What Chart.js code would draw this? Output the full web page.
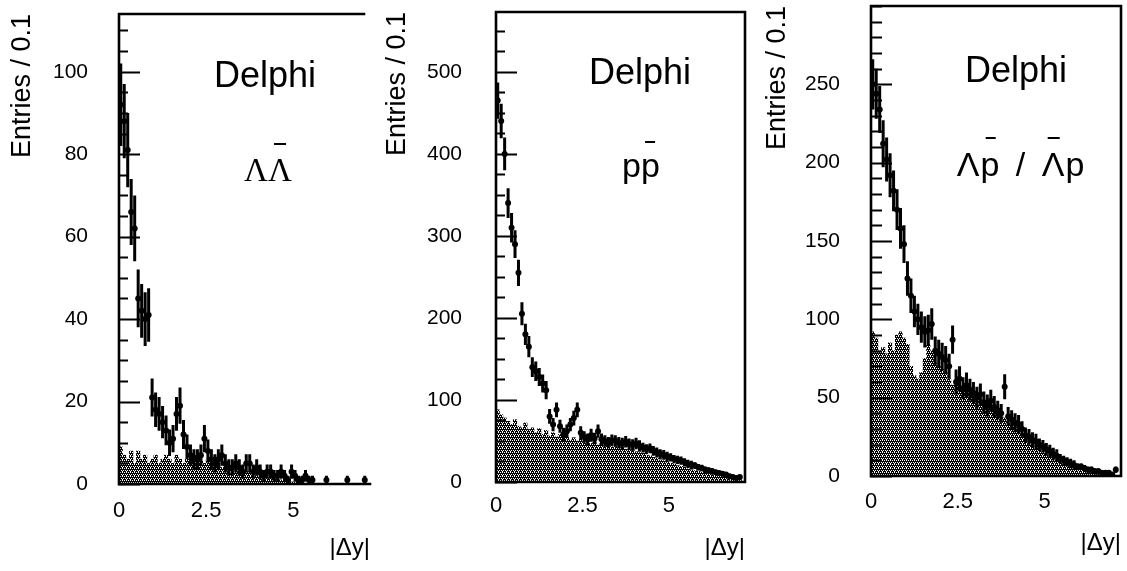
<!DOCTYPE html>
<html><head><meta charset="utf-8">
<script src="https://cdn.jsdelivr.net/npm/chart.js@4.4.1/dist/chart.umd.min.js"></script>
<style>
html,body{margin:0;padding:0;background:#fff}
body{width:1127px;height:571px;position:relative;overflow:hidden;font-family:"Liberation Sans",Arial,sans-serif;color:#000}
canvas{position:absolute;top:0}
.lbl{position:absolute;white-space:nowrap;transform:translateX(-50%);line-height:1;color:#000}
.sans{font-family:"Liberation Sans",Arial,sans-serif}
.serif{font-family:"Liberation Serif","Times New Roman",serif}
.ov{position:relative}
.ov::before{content:"";position:absolute;left:24%;right:24%;border-top:2px solid #000;top:var(--bt)}
</style></head>
<body>
<canvas id="c1" width="376" height="571" style="left:0px"></canvas>
<canvas id="c2" width="376" height="571" style="left:376px"></canvas>
<canvas id="c3" width="375" height="571" style="left:752px"></canvas>
<div class="lbl sans" style="left:265px;top:57px;font-size:36px">Delphi</div>
<div class="lbl sans" style="left:640px;top:54px;font-size:36px">Delphi</div>
<div class="lbl sans" style="left:1016px;top:52px;font-size:36px">Delphi</div>
<div class="lbl serif" style="left:268px;top:154px;font-size:33px">Λ<span class="ov" style="--bt:-9px">Λ</span></div>
<div class="lbl sans" style="left:641px;top:148px;font-size:34px">p<span class="ov" style="--bt:-5px">p</span></div>
<div class="lbl sans" style="left:1021px;top:147px;font-size:34px;word-spacing:5px;letter-spacing:1px">Λ<span class="ov" style="--bt:-8px">p</span> / <span class="ov" style="--bt:-8px">Λ</span>p</div>
<script>
// ---- data ----
const binCenters = [
0.05,0.15,0.25,0.35,0.45,0.55,0.65,0.75,0.85,0.95,
1.05,1.15,1.25,1.35,1.45,1.55,1.65,1.75,1.85,1.95,
2.05,2.15,2.25,2.35,2.45,2.55,2.65,2.75,2.85,2.95,
3.05,3.15,3.25,3.35,3.45,3.55,3.65,3.75,3.85,3.95,
4.05,4.15,4.25,4.35,4.45,4.55,4.65,4.75,4.85,4.95,
5.05,5.15,5.25,5.35,5.45,5.55,5.65,5.75,5.85,5.95,
6.05,6.15,6.25,6.35,6.45,6.55,6.65,6.75,6.85,6.95,
7.05,7.15];
const xTickValues = [0, 2.5, 5];
const xTitle = '|Δy|';
const yTitle = 'Entries / 0.1';

// Lambda Lambda-bar
const llTicks = [0,20,40,60,80,100];
const llData = [
92,88,81,66,62,45,42,40,41,21,
18,17,15,13,10,11,17,19,12,9,
7,6,6,7,11,8,6,5,6,7,
5,4,4,5,4,3,5,5,3,4,
3,2,3,3,2,2,3,2,1,3,
2,1,1,2,1,1,null,null,null,1,
null,null,null,null,null,1,null,null,null,null,
1,null];
const llErr = [
10,9,9,8,8,7,6.5,6.5,6.5,4.6,
4.2,4.1,3.9,3.6,3.2,3.3,4.1,4.4,3.5,3,
2.6,2.4,2.4,2.6,3.3,2.8,2.4,2.2,2.4,2.6,
2.2,2,2,2.2,2,1.7,2.2,2.2,1.7,2,
1.7,1.4,1.7,1.7,1.4,1.4,1.7,1.4,1,1.7,
1.4,1,1,1.4,1,1,null,null,null,1,
null,null,null,null,null,1,null,null,null,null,
1,null];
const llBg = [
9,7,6,8,5,8,6,7,5,6,
7,5,6,7,6,5,7,6,5,6,
5,7,5,6,5,6,4,5,5,4,
5,4,4,3,4,3,3,3,3,2,
3,2,2,2,1.5,1,1,1,0.5,0.5,
0.5,0.3,0,0,0,0,0,0,0,0,
0,0,0,0,0,0,0,0,0,0,
0,0];

// p p-bar
const ppTicks = [0,100,200,300,400,500];
const ppData = [
465,440,400,340,310,290,255,205,180,165,
140,135,128,120,112,80,70,88,68,58,
62,70,78,88,60,55,52,57,53,62,
52,50,48,51,50,48,47,49,46,45,
47,44,42,40,41,38,36,34,33,31,
30,28,27,26,24,22,21,20,18,17,
15,14,13,12,11,10,9,7,6,5,
6,null];
const ppErr = [
22,21,20,18,18,17,16,14,13,13,
12,12,11,11,11,9,8,9,8,8,
8,8,9,9,8,7,7,8,7,8,
7,7,7,7,7,7,7,7,7,7,
7,7,6,6,6,6,6,6,6,6,
5,5,5,5,5,5,5,4,4,4,
4,4,4,3,3,3,3,3,2,2,
2,null];
const ppBg = [
88,82,78,74,70,76,68,66,72,64,
66,60,65,58,63,56,60,55,58,53,
56,51,54,50,52,48,50,47,49,45,
47,44,46,43,44,41,43,40,39,40,
37,36,35,33,32,30,29,27,26,25,
23,22,20,19,18,16,15,14,13,12,
11,10,9,8,7,7,6,5,4,4,
3,0];

// Lambda p-bar / Lambda-bar p
const lpTicks = [0,50,100,150,200,250];
const lpData = [
250,244,234,212,202,192,182,170,158,148,
126,115,105,100,95,92,93,97,80,78,
76,74,70,87,60,62,56,58,55,53,
50,52,47,45,48,44,42,40,57,38,
36,34,33,30,26,25,23,22,20,19,
17,16,14,13,11,10,9,8,7,6,
6,5,4,4,3,3,2,2,2,1,
4,null];
const lpErr = [
16,16,15,15,14,14,13,13,13,12,
11,11,10,10,10,10,10,10,9,9,
9,9,8,9,8,8,7,8,7,7,
7,7,7,7,7,7,6,6,8,6,
6,6,6,5,5,5,5,5,4,4,
4,4,4,4,3,3,3,3,3,2,
2,2,2,2,2,2,1.4,1.4,1.4,1,
2,null];
const lpBg = [
92,88,80,82,78,85,80,90,92,88,
84,70,64,62,66,75,84,80,72,70,
68,66,62,58,60,57,55,53,54,50,
48,49,46,44,45,42,40,38,37,35,
33,31,29,27,24,22,20,18,17,15,
14,12,11,10,9,8,7,6,5,5,
4,3,3,2,2,2,1,1,1,1,
0,0];

// ---- rendering ----
Chart.defaults.font.family = '"Liberation Sans", Arial, sans-serif';
Chart.defaults.color = '#000';

function makePattern() {
  const p = document.createElement('canvas');
  p.width = 4; p.height = 4;
  const g = p.getContext('2d');
  g.fillStyle = '#000'; g.fillRect(0, 0, 4, 4);
  g.fillStyle = '#ffffff';
  [[0,0],[2,0],[1,2],[3,2],[2,3]].forEach(([x,y]) => g.fillRect(x, y, 1, 1));
  return g.createPattern(p, 'repeat');
}

function makePanel(id, vals, errs, bg, yTicks, cfg) {
  const ctx = document.getElementById(id).getContext('2d');
  const pattern = makePattern();
  const pts = [];
  vals.forEach((v, i) => { if (v !== null) pts.push({x: binCenters[i], y: v}); });
  const bars = bg.map((v, i) => ({x: binCenters[i], y: v}));

  const deco = {
    id: 'deco_' + id,
    afterDatasetsDraw(chart) {
      const c = chart.ctx, xs = chart.scales.x, ys = chart.scales.y;
      c.save();
      c.strokeStyle = '#000';
      c.lineWidth = 3;
      c.beginPath();
      vals.forEach((v, i) => {
        if (v === null) return;
        const px = xs.getPixelForValue(binCenters[i]);
        const e = errs[i];
        c.moveTo(px, ys.getPixelForValue(Math.max(0, v - e)));
        c.lineTo(px, ys.getPixelForValue(v + e));
      });
      c.stroke();
      c.lineWidth = 2;
      c.beginPath();
      vals.forEach((v, i) => {
        if (v === null) return;
        const py = ys.getPixelForValue(v);
        c.moveTo(xs.getPixelForValue(binCenters[i] - 0.04), py);
        c.lineTo(xs.getPixelForValue(binCenters[i] + 0.04), py);
      });
      c.stroke();
      c.restore();
    },
    afterDraw(chart) {
      const c = chart.ctx, a = chart.chartArea, ys = chart.scales.y;
      c.save();
      c.strokeStyle = '#000';
      c.lineWidth = 2.6;
      c.lineCap = 'square';
      c.beginPath();
      c.moveTo(a.left, a.bottom); c.lineTo(a.left, a.top); c.lineTo(cfg.topEnd ? a.left + cfg.topEnd : a.right, a.top);
      c.moveTo(a.left, a.bottom); c.lineTo(a.right, a.bottom);
      if (cfg.rightBorder) { c.moveTo(a.right, a.top); c.lineTo(a.right, a.bottom); }
      c.stroke();
      // inward ticks
      c.lineWidth = 2;
      c.beginPath();
      for (let v = 0; v <= cfg.ymax + 1e-9; v += cfg.minor) {
        const py = Math.round(ys.getPixelForValue(v)) + 0.5;
        const isMajor = yTicks.some(t => Math.abs(t - v) < 1e-6);
        const len = isMajor ? cfg.majLen : cfg.minLen;
        c.moveTo(a.left, py); c.lineTo(a.left + len, py);
      }
      c.stroke();
      c.restore();
    }
  };

  return new Chart(ctx, {
    type: 'bar',
    data: {
      datasets: [
        {type: 'scatter', data: pts, pointRadius: 3, pointBackgroundColor: '#000', pointBorderWidth: 0, pointHoverRadius: 0, order: 0},
        {type: 'bar', data: bars, backgroundColor: pattern, borderWidth: 0, barPercentage: 1, categoryPercentage: 1, order: 1}
      ]
    },
    options: {
      responsive: false, animation: false, devicePixelRatio: 1,
      layout: {padding: {left: 0, top: cfg.top, right: cfg.right, bottom: 0}},
      plugins: {legend: {display: false}, tooltip: {enabled: false}},
      events: [],
      scales: {
        x: {
          type: 'linear', min: 0, max: 7.2, offset: false,
          grid: {display: false, drawTicks: false}, border: {display: false},
          afterFit: s => { s.height = cfg.xh; s.paddingLeft = 0; s.paddingRight = 0; },
          afterBuildTicks: s => { s.ticks = xTickValues.map(v => ({value: v})); },
          ticks: {padding: cfg.xpad, font: {size: 22}, color: '#000', autoSkip: false, maxRotation: 0, callback: v => String(v)},
          title: {display: true, text: xTitle, align: 'end', font: {size: 24}, padding: {top: 0, bottom: cfg.xtpad}, color: '#000'}
        },
        y: {
          type: 'linear', min: 0, max: cfg.ymax,
          grid: {display: false, drawTicks: false}, border: {display: false},
          afterFit: s => { s.width = cfg.yw; s.paddingTop = 0; s.paddingBottom = 0; },
          afterBuildTicks: s => { s.ticks = yTicks.map(v => ({value: v})); },
          ticks: {padding: cfg.ypad, font: {size: 21}, color: '#000', callback: v => String(v)},
          title: {display: true, text: yTitle, align: 'end', font: {size: 27}, padding: {top: cfg.ytpad, bottom: 0}, color: '#000'}
        }
      }
    },
    plugins: [deco]
  });
}

makePanel('c1', llData, llErr, llBg, llTicks,
  {top: 14, right: 6, xh: 87, yw: 119, ymax: 114, xpad: 14, xtpad: 8, ypad: 31, ytpad: 6,
   minor: 5, majLen: 20, minLen: 8, rightBorder: false, topEnd: 245});
makePanel('c2', ppData, ppErr, ppBg, ppTicks,
  {top: 12, right: 7, xh: 89, yw: 120, ymax: 573, xpad: 11, xtpad: 8, ypad: 34, ytpad: 5,
   minor: 25, majLen: 20, minLen: 8, rightBorder: true});
makePanel('c3', lpData, lpErr, lpBg, lpTicks,
  {top: 6, right: 6, xh: 95, yw: 119, ymax: 300, xpad: 13, xtpad: 13, ypad: 31, ytpad: 9,
   minor: 10, majLen: 20, minLen: 10, rightBorder: true});
</script>
</body></html>
